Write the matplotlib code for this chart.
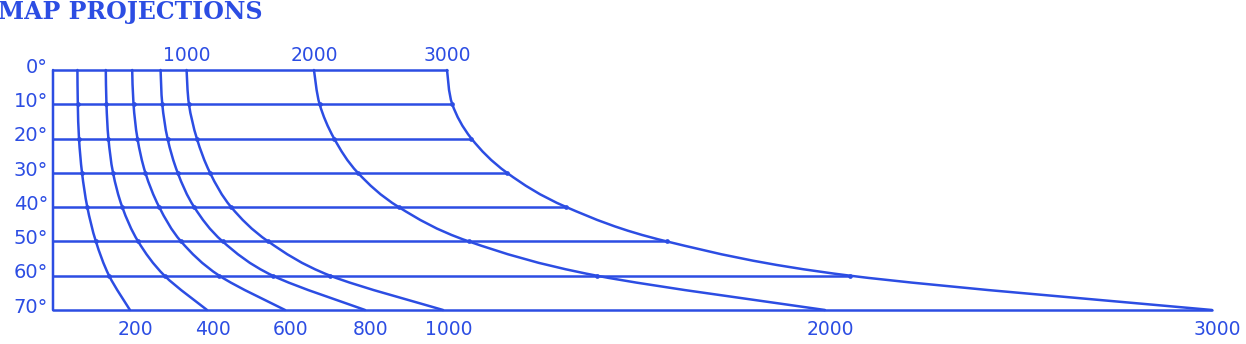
import matplotlib.pyplot as plt
from matplotlib.path import Path
from matplotlib.patches import PathPatch

# Parallels (degrees)
latitudes = [0, 10, 20, 30, 40, 50, 60, 70]
lat_labels = ['0°', '10°', '20°', '30°', '40°', '50°', '60°', '70°']

# Distance curves, x position (stretched units) read at each parallel
curve_0 = [0, 0, 0, 0, 0, 0, 0, 0]
curve_200 = [185, 188, 197, 220, 260, 325, 425, 583]
curve_400 = [400, 405, 420, 455, 525, 645, 845, 1167]
curve_600 = [600, 610, 640, 700, 805, 970, 1260, 1758]
curve_800 = [815, 828, 868, 945, 1070, 1285, 1665, 2364]
curve_1000 = [1012, 1030, 1090, 1190, 1350, 1630, 2100, 2955]
curve_2000 = [1977, 2020, 2130, 2310, 2620, 3150, 4120, 5848]
curve_3000 = [2985, 3025, 3170, 3440, 3890, 4650, 6040, 8780]

top_labels = ['1000', '2000', '3000']
bottom_labels = ['200', '400', '600', '800', '1000', '2000', '3000']

blue = '#2c4de3'

curves = [curve_0, curve_200, curve_400, curve_600, curve_800,
          curve_1000, curve_2000, curve_3000]
top_curves = [curve_1000, curve_2000, curve_3000]
bottom_curves = [curve_200, curve_400, curve_600, curve_800,
                 curve_1000, curve_2000, curve_3000]


def smooth_path(xs, ys):
    # Catmull-Rom through the read points, drawn as cubic Bezier segments
    pts = list(zip(xs, ys))
    verts = [pts[0]]
    codes = [Path.MOVETO]
    n = len(pts)
    for i in range(n - 1):
        p0 = pts[max(i - 1, 0)]
        p1 = pts[i]
        p2 = pts[i + 1]
        p3 = pts[min(i + 2, n - 1)]
        c1 = (p1[0] + (p2[0] - p0[0]) / 6, p1[1] + (p2[1] - p0[1]) / 6)
        c2 = (p2[0] - (p3[0] - p1[0]) / 6, p2[1] - (p3[1] - p1[1]) / 6)
        verts += [c1, c2, p2]
        codes += [Path.CURVE4] * 3
    return Path(verts, codes)


fig = plt.figure(figsize=(12.46, 3.44), dpi=100)
ax = fig.add_axes([0, 0, 1, 1])
ax.set_xlim(-401.5, 9037.9)
ax.set_ylim(79.92, -20.42)
ax.axis('off')

# Parallels run from the left edge to the 3000 curve
for lat, x_end in zip(latitudes, curve_3000):
    ax.plot([0, x_end], [lat, lat], color=blue, lw=1.8,
            solid_capstyle='round')

# Distance curves
for xs in curves:
    ax.add_patch(PathPatch(smooth_path(xs, latitudes), facecolor='none',
                           edgecolor=blue, lw=1.8, capstyle='round'))
for xs in curves[1:]:
    ax.plot(xs[1:7], latitudes[1:7], 'o', color=blue, ms=3.4, mew=0)

# Latitude labels
for lat, lab in zip(latitudes, lat_labels):
    ax.annotate(lab, (0, lat), xytext=(-3.5, 2), textcoords='offset points',
                ha='right', va='center', color=blue, fontsize=14)

# Distance labels
for xs, lab in zip(top_curves, top_labels):
    ax.annotate(lab, (xs[0], 0), xytext=(0, 10.5), textcoords='offset points',
                ha='center', va='center', color=blue, fontsize=13.5)

for xs, lab in zip(bottom_curves, bottom_labels):
    ax.annotate(lab, (xs[-1], 70), xytext=(4, -14), textcoords='offset points',
                ha='center', va='center', color=blue, fontsize=13.5)

fig.text(-2 / 1246, 1 - 19 / 344, 'MAP PROJECTIONS', color=blue,
         fontsize=17, fontweight='bold', family='DejaVu Serif',
         ha='left', va='baseline')

fig.savefig('out.png', dpi=100)
